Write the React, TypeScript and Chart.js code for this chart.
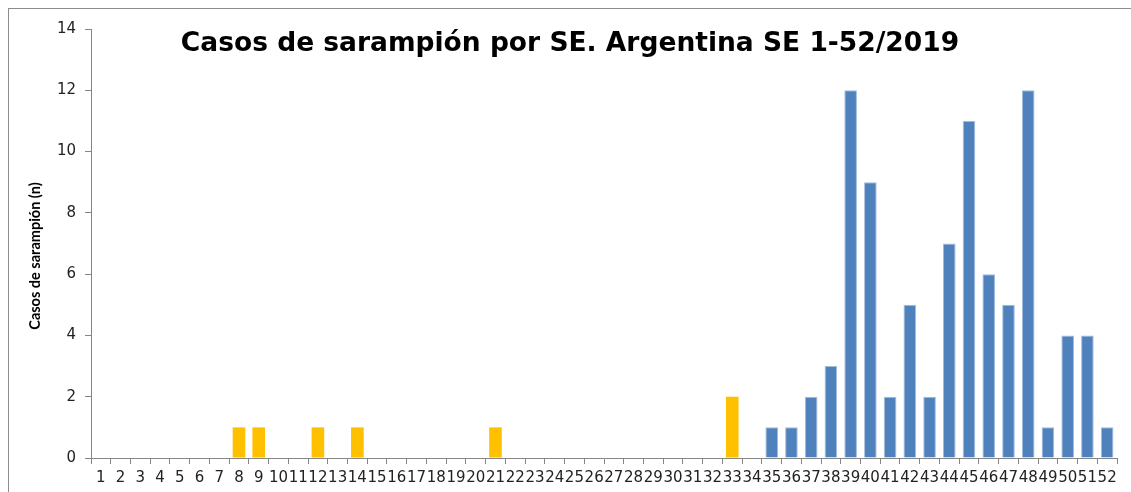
import React, { useEffect, useRef } from "react";
import { Chart, registerables } from "chart.js";

Chart.register(...registerables);

const weeks: string[] = Array.from({ length: 52 }, (_, i) => String(i + 1));

// Casos (amarillo) SE 1-34
const casesYellow: (number | null)[] = [
  null, null, null, null, null, null, null, 1, 1, null,
  null, 1, null, 1, null, null, null, null, null, null,
  1, null, null, null, null, null, null, null, null, null,
  null, null, 2, null, null, null, null, null, null, null,
  null, null, null, null, null, null, null, null, null, null,
  null, null,
];

// Casos (azul) SE 35-52
const casesBlue: (number | null)[] = [
  null, null, null, null, null, null, null, null, null, null,
  null, null, null, null, null, null, null, null, null, null,
  null, null, null, null, null, null, null, null, null, null,
  null, null, null, null, 1, 1, 2, 3, 12, 9,
  2, 5, 2, 7, 11, 6, 5, 12, 1, 4,
  4, 1,
];

const yTicks = [0, 2, 4, 6, 8, 10, 12, 14];

const TITLE = "Casos de sarampión por SE. Argentina SE 1-52/2019";
const Y_TITLE = "Casos de sarampión (n)";

export default function App() {
  const canvasRef = useRef<HTMLCanvasElement | null>(null);

  useEffect(() => {
    if (!canvasRef.current) return;
    const axisColor = "#868686";
    const chart = new Chart(canvasRef.current, {
      type: "bar",
      data: {
        labels: weeks,
        datasets: [
          {
            label: "Amarillo",
            data: casesYellow,
            backgroundColor: "#FFC000",
            borderColor: "#FFD24D",
            borderWidth: 0,
            barPercentage: 0.64,
            categoryPercentage: 1,
          },
          {
            label: "Azul",
            data: casesBlue,
            backgroundColor: "#4F81BD",
            borderColor: "#A3BCDD",
            borderWidth: 1,
            barPercentage: 0.64,
            categoryPercentage: 1,
          },
        ],
      },
      options: {
        animation: false,
        responsive: true,
        maintainAspectRatio: false,
        layout: { padding: { top: 20, right: 14, bottom: 0, left: 0 } },
        plugins: {
          legend: { display: false },
          tooltip: { enabled: false },
          title: { display: false },
        },
        scales: {
          x: {
            stacked: true,
            grid: {
              display: true,
              drawOnChartArea: false,
              drawTicks: true,
              tickLength: 6,
              color: axisColor,
              offset: true,
            },
            border: { display: true, color: axisColor },
            ticks: {
              autoSkip: false,
              maxRotation: 0,
              minRotation: 0,
              padding: 5,
              color: "#222",
              font: { family: "DejaVu Sans", size: 15 },
            },
            afterFit: (scale: any) => {
              scale.height = 34;
            },
          },
          y: {
            stacked: true,
            min: 0,
            max: 14,
            afterBuildTicks: (scale: any) => {
              scale.ticks = yTicks.map((v) => ({ value: v }));
            },
            grid: {
              display: true,
              drawOnChartArea: false,
              drawTicks: true,
              tickLength: 6,
              color: axisColor,
            },
            border: { display: true, color: axisColor },
            ticks: {
              padding: 9,
              color: "#222",
              font: { family: "DejaVu Sans", size: 15 },
            },
            afterFit: (scale: any) => {
              scale.width = 82;
            },
          },
        },
      },
    });
    return () => chart.destroy();
  }, []);

  return (
    <div
      style={{
        position: "fixed",
        left: 8,
        top: 8,
        width: 1123,
        height: 484,
        boxSizing: "border-box",
        borderTop: "1px solid #8c8c8c",
        borderLeft: "1px solid #8c8c8c",
        background: "#fff",
      }}
    >
      <div style={{ position: "absolute", left: 0, top: 0, width: 1122, height: 483 }}>
        <canvas ref={canvasRef} />
      </div>
      <div
        style={{
          position: "absolute",
          left: 0,
          top: 20,
          width: 1122,
          textAlign: "center",
          fontFamily: "DejaVu Sans",
          fontWeight: "bold",
          fontSize: 26.5,
          lineHeight: "26px",
          color: "#000",
          whiteSpace: "nowrap",
          pointerEvents: "none",
        }}
      >
        {TITLE}
      </div>
      <div
        style={{
          position: "absolute",
          left: -74,
          top: 238,
          width: 200,
          height: 18,
          lineHeight: "18px",
          textAlign: "center",
          transform: "rotate(-90deg)",
          transformOrigin: "50% 50%",
          fontFamily: "Lato",
          fontWeight: "bold",
          fontSize: 14.5,
          color: "#000",
          whiteSpace: "nowrap",
          pointerEvents: "none",
        }}
      >
        {Y_TITLE}
      </div>
    </div>
  );
}
